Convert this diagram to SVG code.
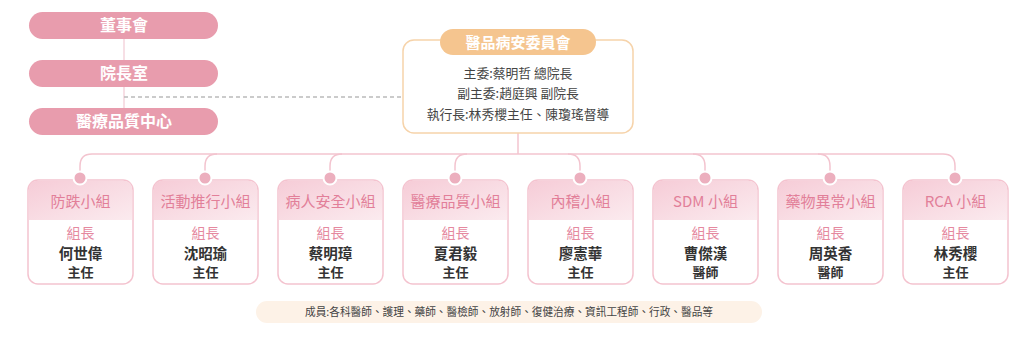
<svg xmlns="http://www.w3.org/2000/svg" width="1024" height="345" viewBox="0 0 1024 345">
<defs>
<style>
text{font-family:"Noto Sans CJK TC","Noto Sans CJK SC","Noto Sans",sans-serif;text-anchor:middle}
.pill{fill:#e89cad}
.pt{fill:#fff;font-size:16px;font-weight:bold}
.cl{fill:#444;font-size:12.8px}
.box{fill:#fff;stroke:#f4c3cf;stroke-width:1.5}
.gt{fill:#e27f99;font-size:15px}
.lead{fill:#e5899f;font-size:14px}
.nm{fill:#333;font-size:14.5px;font-weight:bold}
.tt{fill:#333;font-size:13px;font-weight:bold}
.dot{fill:#ecafbe;stroke:#fff;stroke-width:2}
.ln{fill:none;stroke:#f3c4cf;stroke-width:1.5}
</style>
<linearGradient id="hd" x1="0" y1="0" x2="1" y2="1">
<stop offset="0" stop-color="#f6ccd7"/>
<stop offset="1" stop-color="#fbebef"/>
</linearGradient>
</defs>
<rect width="1024" height="345" fill="#fff"/>
<g id="connectors">
<line class="ln" x1="124" y1="38" x2="124" y2="110" style="stroke:#f5d5dc"/>
<line x1="124" y1="97" x2="404" y2="97" stroke="#bbb" stroke-width="1.3" stroke-dasharray="4,3"/>
<line class="ln" x1="518" y1="133" x2="518" y2="154"/>
<path class="ln" d="M92 154 H943"/>
<path class="ln" d="M92 154 Q80 154 80 166 V178"/>
<path class="ln" d="M217 154 Q205 154 205 166 V178"/>
<path class="ln" d="M342 154 Q330 154 330 166 V178"/>
<path class="ln" d="M467 154 Q455 154 455 166 V178"/>
<path class="ln" d="M568 154 Q580 154 580 166 V178"/>
<path class="ln" d="M693 154 Q705 154 705 166 V178"/>
<path class="ln" d="M818 154 Q830 154 830 166 V178"/>
<path class="ln" d="M943 154 Q955 154 955 166 V178"/>
</g>
<g id="board"><rect class="pill" x="29" y="12" width="189" height="27" rx="13.5"/><text class="pt" x="124" y="31">董事會</text></g>
<g id="president"><rect class="pill" x="29" y="60" width="189" height="27" rx="13.5"/><text class="pt" x="124" y="79">院長室</text></g>
<g id="qcenter"><rect class="pill" x="29" y="108" width="189" height="27" rx="13.5"/><text class="pt" x="124" y="127">醫療品質中心</text></g>
<g id="committee">
<rect x="403" y="40" width="230" height="93" rx="11" fill="#fff" stroke="#f6d3aa" stroke-width="1.5"/>
<rect x="440" y="29" width="156" height="26" rx="13" fill="#f5c58f"/>
<text class="pt" x="518" y="47.5" style="font-size:15px">醫品病安委員會</text>
<text class="cl" x="518" y="78">主委:蔡明哲 總院長</text>
<text class="cl" x="518" y="98">副主委:趙庭興 副院長</text>
<text class="cl" x="518" y="119">執行長:林秀櫻主任、陳瓊瑤督導</text>
</g>
<g id="g1"><rect class="box" x="28" y="180" width="105" height="104" rx="10"/><path d="M28.8 220 V190 Q28.8 180.8 38 180.8 H123 Q132.2 180.8 132.2 190 V220 Z" fill="url(#hd)"/><circle class="dot" cx="80" cy="178" r="6.5"/><text class="gt" x="80.5" y="207">防跌小組</text><text class="lead" x="80.5" y="238">組長</text><text class="nm" x="80.5" y="259">何世偉</text><text class="tt" x="80.5" y="277">主任</text></g>
<g id="g2"><rect class="box" x="153" y="180" width="105" height="104" rx="10"/><path d="M153.8 220 V190 Q153.8 180.8 163 180.8 H248 Q257.2 180.8 257.2 190 V220 Z" fill="url(#hd)"/><circle class="dot" cx="205" cy="178" r="6.5"/><text class="gt" x="205.5" y="207">活動推行小組</text><text class="lead" x="205.5" y="238">組長</text><text class="nm" x="205.5" y="259">沈昭瑜</text><text class="tt" x="205.5" y="277">主任</text></g>
<g id="g3"><rect class="box" x="278" y="180" width="105" height="104" rx="10"/><path d="M278.8 220 V190 Q278.8 180.8 288 180.8 H373 Q382.2 180.8 382.2 190 V220 Z" fill="url(#hd)"/><circle class="dot" cx="330" cy="178" r="6.5"/><text class="gt" x="330.5" y="207">病人安全小組</text><text class="lead" x="330.5" y="238">組長</text><text class="nm" x="330.5" y="259">蔡明璋</text><text class="tt" x="330.5" y="277">主任</text></g>
<g id="g4"><rect class="box" x="403" y="180" width="105" height="104" rx="10"/><path d="M403.8 220 V190 Q403.8 180.8 413 180.8 H498 Q507.2 180.8 507.2 190 V220 Z" fill="url(#hd)"/><circle class="dot" cx="455" cy="178" r="6.5"/><text class="gt" x="455.5" y="207">醫療品質小組</text><text class="lead" x="455.5" y="238">組長</text><text class="nm" x="455.5" y="259">夏君毅</text><text class="tt" x="455.5" y="277">主任</text></g>
<g id="g5"><rect class="box" x="528" y="180" width="105" height="104" rx="10"/><path d="M528.8 220 V190 Q528.8 180.8 538 180.8 H623 Q632.2 180.8 632.2 190 V220 Z" fill="url(#hd)"/><circle class="dot" cx="580" cy="178" r="6.5"/><text class="gt" x="580.5" y="207">內稽小組</text><text class="lead" x="580.5" y="238">組長</text><text class="nm" x="580.5" y="259">廖憲華</text><text class="tt" x="580.5" y="277">主任</text></g>
<g id="g6"><rect class="box" x="653" y="180" width="105" height="104" rx="10"/><path d="M653.8 220 V190 Q653.8 180.8 663 180.8 H748 Q757.2 180.8 757.2 190 V220 Z" fill="url(#hd)"/><circle class="dot" cx="705" cy="178" r="6.5"/><text class="gt" x="705.5" y="207">SDM 小組</text><text class="lead" x="705.5" y="238">組長</text><text class="nm" x="705.5" y="259">曹傑漢</text><text class="tt" x="705.5" y="277">醫師</text></g>
<g id="g7"><rect class="box" x="778" y="180" width="105" height="104" rx="10"/><path d="M778.8 220 V190 Q778.8 180.8 788 180.8 H873 Q882.2 180.8 882.2 190 V220 Z" fill="url(#hd)"/><circle class="dot" cx="830" cy="178" r="6.5"/><text class="gt" x="830.5" y="207">藥物異常小組</text><text class="lead" x="830.5" y="238">組長</text><text class="nm" x="830.5" y="259">周英香</text><text class="tt" x="830.5" y="277">醫師</text></g>
<g id="g8"><rect class="box" x="903" y="180" width="105" height="104" rx="10"/><path d="M903.8 220 V190 Q903.8 180.8 913 180.8 H998 Q1007.2 180.8 1007.2 190 V220 Z" fill="url(#hd)"/><circle class="dot" cx="955" cy="178" r="6.5"/><text class="gt" x="955.5" y="207">RCA 小組</text><text class="lead" x="955.5" y="238">組長</text><text class="nm" x="955.5" y="259">林秀櫻</text><text class="tt" x="955.5" y="277">主任</text></g>
<g id="members"><rect x="256" y="301" width="506" height="22" rx="11" fill="#fdf2e7"/><text x="509" y="316" textLength="408" lengthAdjust="spacingAndGlyphs" style="fill:#444;font-size:11px">成員:各科醫師、護理、藥師、醫檢師、放射師、復健治療、資訊工程師、行政、醫品等</text></g>
</svg>
